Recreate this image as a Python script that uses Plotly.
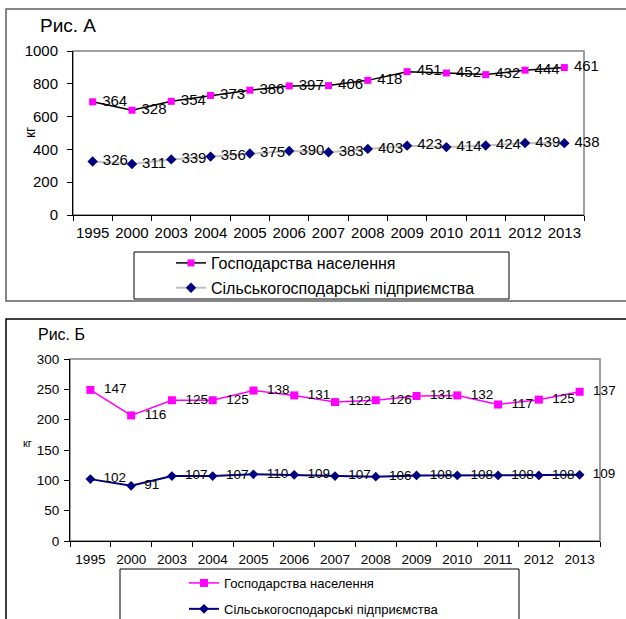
import plotly.graph_objects as go

years = ["1995", "2000", "2003", "2004", "2005", "2006", "2007",
         "2008", "2009", "2010", "2011", "2012", "2013"]
a_households = [364, 328, 354, 373, 386, 397, 406, 418, 451, 452, 432, 444, 461]
a_enterprises = [326, 311, 339, 356, 375, 390, 383, 403, 423, 414, 424, 439, 438]
b_households = [147, 116, 125, 125, 138, 131, 122, 126, 131, 132, 117, 125, 137]
b_enterprises = [102, 91, 107, 107, 110, 109, 107, 106, 108, 108, 108, 108, 109]
name_hh = "Господарства населення"
name_ent = "Сільськогосподарські підприємства"
a_ticks = [0, 200, 400, 600, 800, 1000]
b_ticks = [0, 50, 100, 150, 200, 250, 300]

W, H = 626, 619
FONT = "Arial, Liberation Sans, sans-serif"
MAG = "#FF00FF"
NAVY = "#000080"
NB = "\u00a0"


def px(x):
    return x / W


def py(y):
    return 1 - y / H


def labels(vals, pad):
    return [NB * pad + str(v) for v in vals]


fig = go.Figure()

# Panel A
fig.add_trace(go.Scatter(
    x=years, y=a_enterprises, name=name_ent, stackgroup="a", fill="none",
    mode="lines+markers+text", text=labels(a_enterprises, 1), cliponaxis=False,
    textposition="middle right", textfont=dict(size=15, color="black", family=FONT),
    line=dict(color="#C0C0C0", width=2),
    marker=dict(symbol="diamond", size=8, color=NAVY),
    xaxis="x", yaxis="y", legend="legend", legendrank=2, legendgroup="a2"))
fig.add_trace(go.Scatter(
    x=years, y=a_households, name=name_hh, stackgroup="a", fill="none",
    mode="lines+markers+text", text=labels(a_households, 1), cliponaxis=False,
    textposition="middle right", textfont=dict(size=15, color="black", family=FONT),
    line=dict(color="black", width=1.5),
    marker=dict(symbol="square", size=7, color=MAG),
    xaxis="x", yaxis="y", legend="legend", legendrank=1, legendgroup="a1"))

# Panel B
fig.add_trace(go.Scatter(
    x=years, y=b_enterprises, name=name_ent, stackgroup="b", fill="none",
    mode="lines+markers+text", text=labels(b_enterprises, 2), cliponaxis=False,
    textposition="middle right", textfont=dict(size=13.5, color="black", family=FONT),
    line=dict(color=NAVY, width=2),
    marker=dict(symbol="diamond", size=7.5, color=NAVY),
    xaxis="x2", yaxis="y2", legend="legend2", legendrank=2, legendgroup="b2"))
fig.add_trace(go.Scatter(
    x=years, y=b_households, name=name_hh, stackgroup="b", fill="none",
    mode="lines+markers+text", text=labels(b_households, 2), cliponaxis=False,
    textposition="middle right", textfont=dict(size=13.5, color="black", family=FONT),
    line=dict(color=MAG, width=1.5),
    marker=dict(symbol="square", size=8, color=MAG),
    xaxis="x2", yaxis="y2", legend="legend2", legendrank=1, legendgroup="b1"))

common_x = dict(type="category", tickson="boundaries", ticks="outside", ticklen=5,
                tickcolor="black", showline=True, linecolor="black", linewidth=1,
                showgrid=False, zeroline=False, range=[-0.5, 12.5], tickangle=0)
common_y = dict(ticks="outside", ticklen=5, tickcolor="black", showline=True,
                linecolor="black", linewidth=1, showgrid=False, zeroline=False)

fig.update_layout(
    width=W, height=H, margin=dict(l=0, r=0, t=0, b=0, autoexpand=False),
    paper_bgcolor="white", plot_bgcolor="white",
    font=dict(family=FONT, color="black"),
    xaxis=dict(**common_x, domain=[px(73), px(584)], anchor="y",
               tickfont=dict(size=15), ticklabelstandoff=4),
    yaxis=dict(**common_y, domain=[py(215), py(51)], anchor="x", range=[0, 1000],
               tickvals=a_ticks, tickfont=dict(size=15), ticklabelstandoff=6),
    xaxis2=dict(**common_x, domain=[px(70), px(600)], anchor="y2",
                tickfont=dict(size=13.5), ticklabelstandoff=6),
    yaxis2=dict(**common_y, domain=[py(541), py(359)], anchor="x2", range=[0, 300],
                tickvals=b_ticks, tickfont=dict(size=13.5), ticklabelstandoff=2),
    legend=dict(x=px(171), y=py(246), xanchor="left", yanchor="top",
                bgcolor="rgba(0,0,0,0)", borderwidth=0, traceorder="grouped",
                font=dict(size=16), itemwidth=30, tracegroupgap=1),
    legend2=dict(x=px(184), y=py(568), xanchor="left", yanchor="top",
                 bgcolor="rgba(0,0,0,0)", borderwidth=0, traceorder="grouped",
                 font=dict(size=13), itemwidth=30, tracegroupgap=6),
    showlegend=True,
)

shapes = [
    # outer frames
    dict(type="rect", xref="paper", yref="paper", x0=px(6), x1=px(640), y0=py(301), y1=py(9),
         line=dict(color="#606060", width=1.5)),
    dict(type="rect", xref="paper", yref="paper", x0=px(6), x1=px(640), y0=py(640), y1=py(319),
         line=dict(color="black", width=1.5)),
    # plot area borders (gray top/right)
    dict(type="rect", xref="x domain", yref="y domain", x0=0, x1=1, y0=0, y1=1,
         line=dict(color="#808080", width=1.5), layer="below"),
    dict(type="rect", xref="x2 domain", yref="y2 domain", x0=0, x1=1, y0=0, y1=1,
         line=dict(color="#808080", width=1.5), layer="below"),
    # legend boxes
    dict(type="rect", xref="paper", yref="paper", x0=px(134), x1=px(509), y0=py(299), y1=py(252),
         line=dict(color="black", width=1)),
    dict(type="rect", xref="paper", yref="paper", x0=px(120), x1=px(519), y0=py(640), y1=py(569),
         line=dict(color="black", width=1)),
]
fig.update_layout(shapes=shapes)

annotations = [
    dict(text="Рис. А", x=px(38), y=py(25), xref="paper", yref="paper", xanchor="left",
         yanchor="middle", showarrow=False, font=dict(size=19)),
    dict(text="Рис. Б", x=px(36), y=py(334), xref="paper", yref="paper", xanchor="left",
         yanchor="middle", showarrow=False, font=dict(size=16)),
    dict(text="кг", x=px(30), y=py(133), xref="paper", yref="paper", xanchor="center",
         yanchor="middle", showarrow=False, textangle=-90, font=dict(size=14)),
    dict(text="кг", x=px(27), y=py(443), xref="paper", yref="paper", xanchor="center",
         yanchor="middle", showarrow=False, font=dict(size=11)),
]
fig.update_layout(annotations=annotations)

fig.write_html("out.html", config={"displayModeBar": False},
               post_script="document.body.style.margin='0';document.body.style.overflow='hidden';")
